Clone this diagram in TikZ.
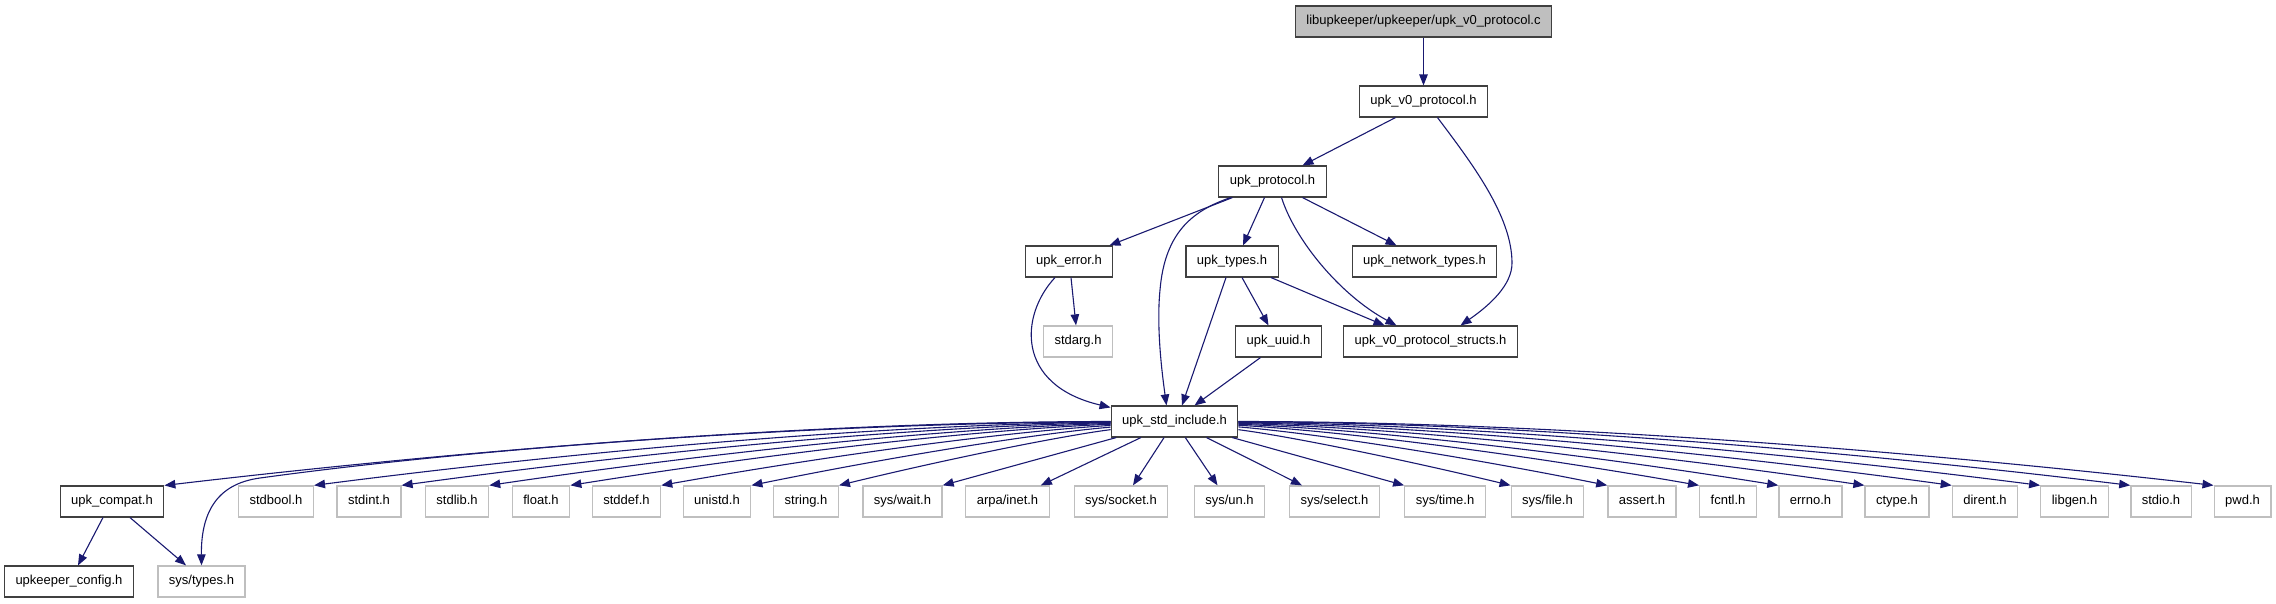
\documentclass[tikz,border=0pt]{standalone}
\usepackage{fontspec}
\setmainfont{Liberation Sans}
\usetikzlibrary{arrows.meta}
\definecolor{edgeblue}{RGB}{25,25,112}
\definecolor{boxgray}{RGB}{191,191,191}
\begin{document}
\begin{tikzpicture}[x=1pt,y=-1pt,
  box/.style={draw=black!75, line width=1.1pt, minimum height=31pt, inner xsep=11pt, inner ysep=0pt,
    text height=9.5pt, text depth=3pt, font=\fontsize{13}{15}\selectfont},
  sysbox/.style={box, draw=boxgray, line width=1.3pt},
  rootbox/.style={box, fill=boxgray},
  edge/.style={draw=edgeblue, line width=1.1pt, -{Triangle[length=11pt,width=8.5pt]}}]
\useasboundingbox (0,0) rectangle (2276,603);
% rows
\node[rootbox] (top) at (1423.5,21.5) {libupkeeper/upkeeper/upk\_v0\_protocol.c};
\node[box] (v0) at (1423.5,101.5) {upk\_v0\_protocol.h};
\node[box] (proto) at (1272.5,181.5) {upk\_protocol.h};
\node[box] (err) at (1069,261.5) {upk\_error.h};
\node[box] (types) at (1232,261.5) {upk\_types.h};
\node[box] (net) at (1424.5,261.5) {upk\_network\_types.h};
\node[sysbox] (stdarg) at (1078,341.5) {stdarg.h};
\node[box] (uuid) at (1278.5,341.5) {upk\_uuid.h};
\node[box] (structs) at (1430.5,341.5) {upk\_v0\_protocol\_structs.h};
\node[box] (inc) at (1174.5,421.5) {upk\_std\_include.h};
\node[box] (compat) at (112,501.5) {upk\_compat.h};
\node[sysbox] (stdbool) at (276,501.5) {stdbool.h};
\node[sysbox] (stdint) at (369,501.5) {stdint.h};
\node[sysbox] (stdlib) at (457,501.5) {stdlib.h};
\node[sysbox] (float) at (541,501.5) {float.h};
\node[sysbox] (stddef) at (626.5,501.5) {stddef.h};
\node[sysbox] (unistd) at (717,501.5) {unistd.h};
\node[sysbox] (string) at (806,501.5) {string.h};
\node[sysbox] (syswait) at (902.5,501.5) {sys/wait.h};
\node[sysbox] (arpa) at (1007.5,501.5) {arpa/inet.h};
\node[sysbox] (socket) at (1121,501.5) {sys/socket.h};
\node[sysbox] (sysun) at (1229.5,501.5) {sys/un.h};
\node[sysbox] (select) at (1334.5,501.5) {sys/select.h};
\node[sysbox] (systime) at (1445,501.5) {sys/time.h};
\node[sysbox] (sysfile) at (1547.5,501.5) {sys/file.h};
\node[sysbox] (assert) at (1642,501.5) {assert.h};
\node[sysbox] (fcntl) at (1728,501.5) {fcntl.h};
\node[sysbox] (errno) at (1810.5,501.5) {errno.h};
\node[sysbox] (ctype) at (1897,501.5) {ctype.h};
\node[sysbox] (dirent) at (1985,501.5) {dirent.h};
\node[sysbox] (libgen) at (2074.5,501.5) {libgen.h};
\node[sysbox] (stdio) at (2161,501.5) {stdio.h};
\node[sysbox] (pwd) at (2242.5,501.5) {pwd.h};
\node[box] (cfg) at (69,581.5) {upkeeper\_config.h};
\node[sysbox] (systypes) at (201.5,581.5) {sys/types.h};
% upper edges
\draw[edge] (top) -- (v0);
\draw[edge] ([xshift=-28pt]v0.south) -- ([xshift=30pt]proto.north);
\draw[edge] ([xshift=14pt]v0.south) .. controls (1470,161) and (1512,215) .. (1512,263)
  .. controls (1512,285) and (1490,305) .. ([xshift=30pt]structs.north);
\draw[edge] ([xshift=-40pt]proto.south) -- ([xshift=-4pt]err.north east);
\draw[edge] ([xshift=-42pt]proto.south) .. controls (1195,210) and (1165,230) .. (1160,290)
  .. controls (1156,330) and (1163,380) .. ([xshift=-8pt]inc.north);
\draw[edge] ([xshift=-8pt]proto.south) -- ([xshift=11pt]types.north);
\draw[edge] ([xshift=9pt]proto.south) .. controls (1295,240) and (1340,295) .. ([xshift=-34pt]structs.north);
\draw[edge] ([xshift=30pt]proto.south) -- ([xshift=-28pt]net.north);
\draw[edge] ([xshift=2pt]err.south) -- ([xshift=-2pt]stdarg.north);
\draw[edge] ([xshift=-14pt]err.south) .. controls (1020,315) and (1015,385) .. ([yshift=-2pt]inc.north west);
\draw[edge] ([xshift=-6pt]types.south) -- ([xshift=7.5pt]inc.north);
\draw[edge] ([xshift=10pt]types.south) -- ([xshift=-10pt]uuid.north);
\draw[edge] ([xshift=39pt]types.south) -- ([xshift=-46pt]structs.north);
\draw[edge] ([xshift=-18pt]uuid.south) -- ([xshift=20pt]inc.north);
% fan from upk_std_include.h
\draw[edge] (inc) .. controls (840,423) and (500,445) .. (260,478)
  .. controls (215,484) and (201,515) .. (systypes.north);
\draw[edge] (inc) .. controls (837.7,421.5) and (500.8,446) .. (compat.north east);
\draw[edge] (inc) .. controls (887.7,424.5) and (600.8,448.6) .. (stdbool.north east);
\draw[edge] (inc) .. controls (916.7,426.4) and (658.8,450.2) .. (stdint.north east);
\draw[edge] (inc) .. controls (946,428.3) and (717.5,451.8) .. (stdlib.north east);
\draw[edge] (inc) .. controls (973,430) and (771.5,453.3) .. (float.north east);
\draw[edge] (inc) .. controls (1003.3,432) and (832.2,455) .. (stddef.north east);
\draw[edge] (inc) .. controls (1033.3,433.9) and (892.2,456.7) .. (unistd.north east);
\draw[edge] (inc) .. controls (1062.3,435.8) and (950.2,458.3) .. (string.north east);
\draw[edge] (inc) -- (syswait.north east);
\draw[edge] (inc) -- ([xshift=-9pt]arpa.north east);
\draw[edge] (inc) -- ([xshift=12pt]socket.north);
\draw[edge] (inc) -- ([xshift=-12pt]sysun.north);
\draw[edge] (inc) -- ([xshift=13pt]select.north west);
\draw[edge] (inc) -- (systime.north west);
\draw[edge] (inc) .. controls (1286.3,435.8) and (1398.2,458.3) .. (sysfile.north west);
\draw[edge] (inc) .. controls (1319,433.7) and (1463.5,456.5) .. (assert.north west);
\draw[edge] (inc) .. controls (1349.3,431.7) and (1524.2,454.8) .. (fcntl.north west);
\draw[edge] (inc) .. controls (1376.3,430) and (1578.2,453.3) .. (errno.north west);
\draw[edge] (inc) .. controls (1404.7,428.2) and (1634.8,451.7) .. (ctype.north west);
\draw[edge] (inc) .. controls (1434,426.3) and (1693.5,450.1) .. (dirent.north west);
\draw[edge] (inc) .. controls (1463.3,424.4) and (1752.2,448.5) .. (libgen.north west);
\draw[edge] (inc) .. controls (1493.3,422.4) and (1812.2,446.8) .. (stdio.north west);
\draw[edge] (inc) .. controls (1521.3,421.5) and (1868.2,446) .. (pwd.north west);
% upk_compat.h
\draw[edge] ([xshift=-9pt]compat.south) -- ([xshift=9pt]cfg.north);
\draw[edge] ([xshift=18pt]compat.south) -- ([xshift=-15.5pt]systypes.north);
\end{tikzpicture}
\end{document}
